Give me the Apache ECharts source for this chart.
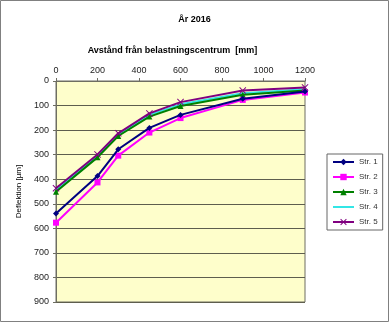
<!DOCTYPE html>
<html><head><meta charset="utf-8">
<script src="https://cdn.jsdelivr.net/npm/echarts@6/dist/echarts.min.js"></script>
<style>html,body{margin:0;padding:0;background:#fff}#c{width:389px;height:322px}</style>
</head><body><div id="c"></div>
<script>
const distances = [0, 200, 300, 450, 600, 900, 1200];
const seriesNames = ['Str. 1', 'Str. 2', 'Str. 3', 'Str. 4', 'Str. 5'];
const str1 = [540, 387, 278, 191, 138, 72, 43];
const str2 = [577, 413, 304, 210, 151, 77, 47];
const str3 = [451, 311, 224, 145, 102, 56, 39];
const str4 = [444, 304, 218, 138, 95, 50, 34];
const str5 = [437, 299, 213, 132, 86, 39, 26];
const xTicks = [0, 200, 400, 600, 800, 1000, 1200];
const yTicks = [0, 100, 200, 300, 400, 500, 600, 700, 800, 900];

const colors = ['#000080', '#ff00ff', '#008000', '#33e6e6', '#800080'];
const symbols = ['diamond', 'rect', 'triangle', 'none',
  'path://M0,1L1,0L5,4L9,0L10,1L6,5L10,9L9,10L5,6L1,10L0,9L4,5Z'];
const allData = [str1, str2, str3, str4, str5];
const font = 'Liberation Sans, Arial, sans-serif';
const axisGray = '#6e6e62';

const chart = echarts.init(document.getElementById('c'), null, {renderer: 'canvas'});
chart.setOption({
  animation: false,
  backgroundColor: '#ffffff',
  textStyle: {fontFamily: font},
  title: {
    text: 'År 2016', left: 'center', top: 10,
    textStyle: {fontSize: 9, fontWeight: 'bold', color: '#000', fontFamily: font}
  },
  graphic: [{
    type: 'rect', shape: {x: 0.5, y: 0.5, width: 388, height: 321},
    style: {fill: 'none', stroke: '#808080', lineWidth: 1}, silent: true, z: 100
  }],
  legend: {
    orient: 'vertical', left: 327, top: 154,
    data: seriesNames.map((n, i) => i === 3 ? {name: n, itemStyle: {opacity: 0}} : {name: n}),
    borderColor: '#666', borderWidth: 1, padding: [4, 5, 4, 5],
    itemWidth: 21, itemHeight: 8, itemGap: 7,
    textStyle: {fontSize: 8, color: '#333', fontFamily: font},
    backgroundColor: '#fff'
  },
  grid: {left: 56, top: 81, width: 249, height: 221, show: true,
    backgroundColor: '#fefecb', borderColor: axisGray, borderWidth: 1},
  xAxis: {
    type: 'value', position: 'top', min: 0, max: 1200, interval: 200,
    name: 'Avstånd från belastningscentrum  [mm]',
    nameLocation: 'middle', nameGap: 26,
    nameTextStyle: {fontSize: 9, fontWeight: 'bold', color: '#000', fontFamily: font,
      padding: [0, 16, 0, 0]},
    axisLine: {show: true, lineStyle: {color: axisGray, width: 1}},
    axisTick: {show: true, length: 3, lineStyle: {color: axisGray}},
    axisLabel: {fontSize: 9, color: '#222', margin: 6, fontFamily: font,
      formatter: v => xTicks.includes(v) ? String(v) : ''},
    splitLine: {show: false}
  },
  yAxis: {
    type: 'value', inverse: true, min: 0, max: 900, interval: 100,
    name: 'Deflektion [µm]', nameLocation: 'middle', nameGap: 33, nameRotate: 90,
    nameTextStyle: {fontSize: 8, color: '#000', fontFamily: font},
    axisLine: {show: true, lineStyle: {color: axisGray, width: 1}},
    axisTick: {show: true, length: 3, lineStyle: {color: axisGray}},
    axisLabel: {fontSize: 9, color: '#222', margin: 7, fontFamily: font,
      formatter: v => yTicks.includes(v) ? String(v) : ''},
    splitLine: {show: true, lineStyle: {color: '#5e5e4e', width: 1}}
  },
  series: seriesNames.map((n, i) => ({
    name: n, type: 'line',
    data: distances.map((d, j) => [d, allData[i][j]]),
    symbol: symbols[i], symbolSize: i === 4 ? 7 : 6, showSymbol: symbols[i] !== 'none',
    lineStyle: {color: colors[i], width: 2},
    itemStyle: {color: colors[i]},
    z: [5, 4, 3, 2, 6][i]
  }))
});
</script></body></html>
